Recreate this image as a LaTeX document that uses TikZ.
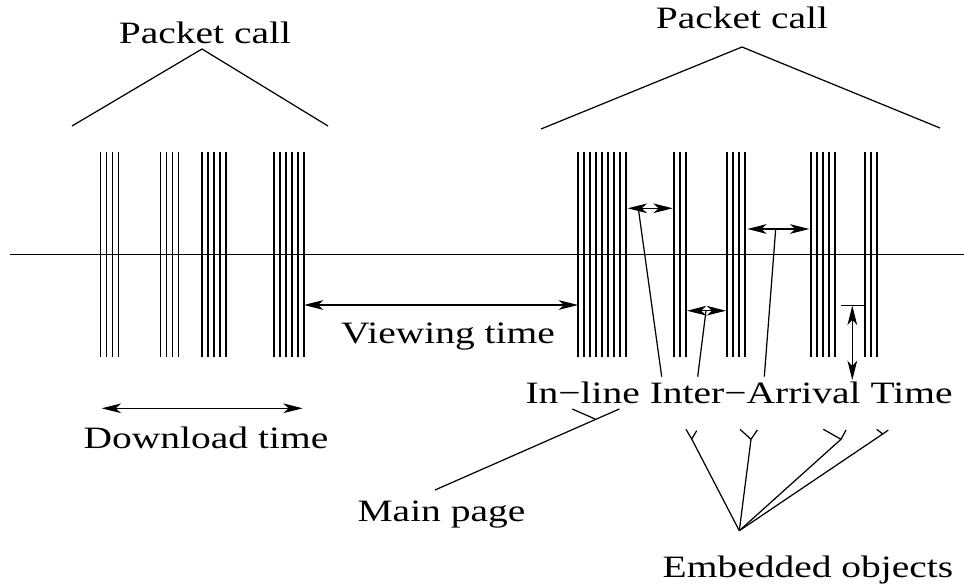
\documentclass[tikz,border=0pt]{standalone}
\usepackage{fontspec}
\newfontfamily\figfont[FakeStretch=1.27]{Liberation Serif}
\usetikzlibrary{arrows.meta}
\tikzset{
  lbl/.style={anchor=base,inner sep=0pt,font=\figfont\fontsize{17.7}{20}\selectfont},
  dimarrow/.style={{Stealth[length=11pt,width=5.5pt,inset=3pt]}-{Stealth[length=11pt,width=5.5pt,inset=3pt]}},
}

\begin{document}
\begin{tikzpicture}[x=0.02cm,y=-0.02cm,line width=0.7pt]
\useasboundingbox (0,0) rectangle (964,588);
\node[lbl] (pc1) at (205,43.3) {Packet call};
\node[lbl] (pc2) at (742,28.3) {Packet call};
\node[lbl] (vt) at (448,343.3) {Viewing time};
\node[lbl] (dt) at (206,448.3) {Download time};
\node[lbl] (iat) at (739,403.3) {In−line Inter−Arrival Time};
\node[lbl] (mp) at (441.5,521.7) {Main page};
\node[lbl] (eo) at (808,577.3) {Embedded objects};
\coordinate[] (L1) at (72,126);
\coordinate[] (L2) at (202,49);
\coordinate[] (L3) at (328,126);
\coordinate[] (R1) at (541,129);
\coordinate[] (R2) at (742,47);
\coordinate[] (R3) at (940,128);
\coordinate[] (O1) at (10,254.7);
\coordinate[] (O2) at (964,254.7);
\coordinate[] (V1) at (304,305);
\coordinate[] (V2) at (578,305);
\coordinate[] (D1) at (101.7,408.3);
\coordinate[] (D2) at (302.7,408.3);
\coordinate[] (A1) at (627.7,208.3);
\coordinate[] (A2) at (672.7,208.3);
\coordinate[] (A3) at (638.3,208.3);
\coordinate[] (A4) at (661.7,376.7);
\coordinate[] (B1) at (687,310.7);
\coordinate[] (B2) at (726,310.7);
\coordinate[] (B3) at (706,310.7);
\coordinate[] (B4) at (697.7,376.7);
\coordinate[] (C1) at (747.3,229);
\coordinate[] (C2) at (809.3,229);
\coordinate[] (C3) at (775.7,229);
\coordinate[] (C4) at (764.3,376.7);
\coordinate[] (T1) at (841,305.7);
\coordinate[] (T2) at (864.7,305.7);
\coordinate[] (T3) at (852.3,305.7);
\coordinate[] (T4) at (852.3,380);
\coordinate[] (M0) at (435,490);
\coordinate[] (M1) at (595,419);
\coordinate[] (M2) at (572.3,409);
\coordinate[] (M3) at (619.3,409);
\coordinate[] (E0) at (739.3,530.7);
\draw (L1) -- (L2) -- (L3);
\draw (R1) -- (R2) -- (R3);
\draw (O1) -- (O2);
\foreach \s/\n in {100.7/4,160.5/4,202/5,274/6,578/9,674/3,727/4,811/5,865/3}
  \foreach \k in {1,...,\n}
    \draw ({\s+6*(\k-1)},152) -- ++(0,204.7);
\draw [dimarrow] (V1) -- (V2);
\draw [dimarrow] (D1) -- (D2);
\draw [dimarrow] (A1) -- (A2);
\draw [dimarrow] (B1) -- (B2);
\draw [dimarrow] (C1) -- (C2);
\draw [dimarrow] (T3) -- (T4);
\draw (T1) -- (T2);
\draw (A3) -- (A4);
\draw (B3) -- (B4);
\draw (C3) -- (C4);
\draw (M0) -- (M3);
\draw (M2) -- (M1);
\foreach \f/\a/\b in {{691.7,439}/{686,429.3}/{696.7,430.7},
                      {751,439.3}/{740,429.3}/{757.3,430},
                      {841,439.3}/{823.3,429.3}/{846,430},
                      {882.7,434}/{876.7,429.3}/{888.3,430}}
  \draw (E0) -- (\f) (\a) -- (\f) -- (\b);
\end{tikzpicture}
\end{document}
